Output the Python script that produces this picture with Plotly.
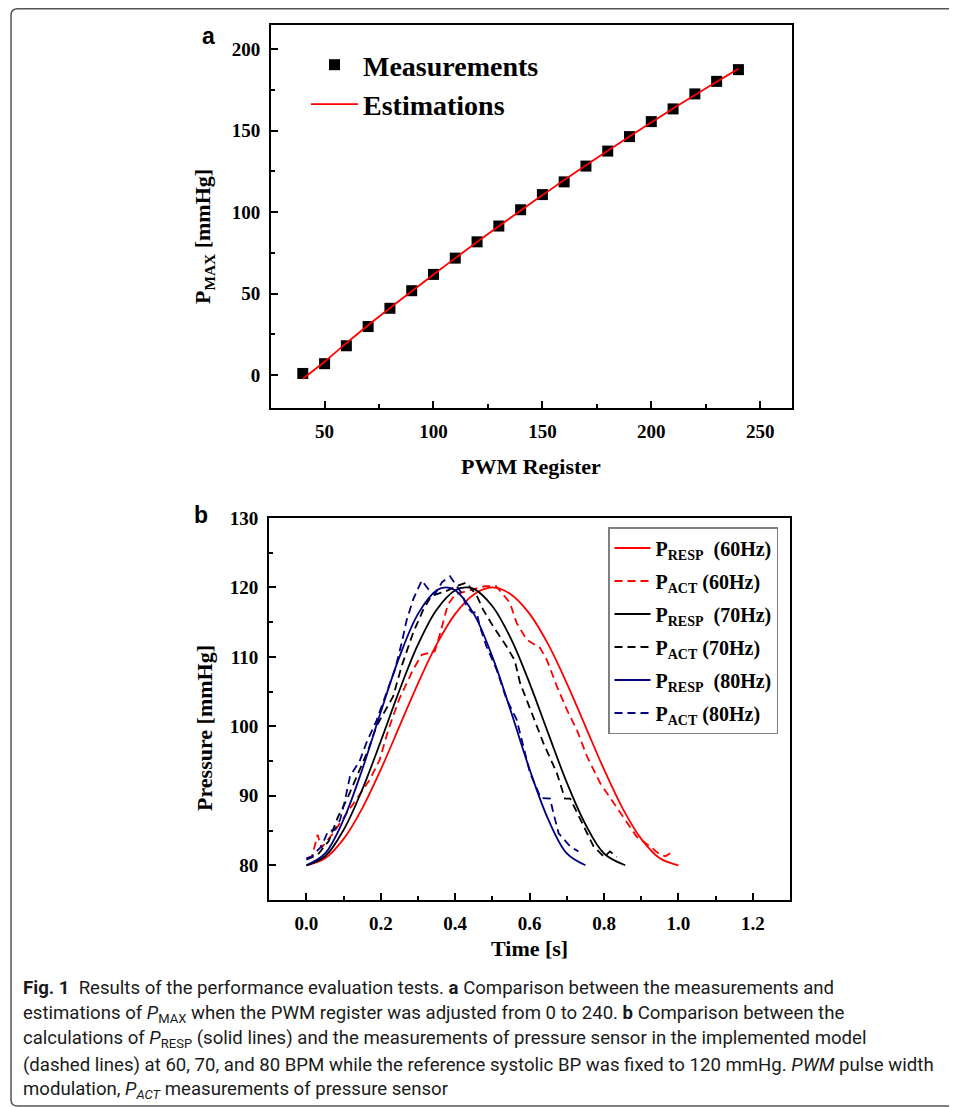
import plotly.graph_objects as go

# the page body adds an 8px margin, so the figure is laid out 8px in
OFF = 8
W, H = 957 - OFF, 1107 - OFF
SERIF = "Liberation Serif, Times New Roman, serif"
SANS = "Liberation Sans, Arial, sans-serif"
CAPTION = "Roboto, Noto Sans, sans-serif"

# ---- panel a: PWM register vs P_MAX ----
pwm = [40, 50, 60, 70, 80, 90, 100, 110, 120, 130, 140,
       150, 160, 170, 180, 190, 200, 210, 220, 230, 240]
pmax_meas = [1.0, 7.0, 18.0, 29.8, 41.0, 51.8, 61.8, 71.8, 81.8, 91.5, 101.5,
             110.8, 118.6, 128.3, 137.5, 146.4, 155.6, 163.4, 172.6, 180.3, 187.5]
pmax_est = [-2.2, 8.2, 19.6, 30.6, 41.1, 51.5, 61.7, 71.8, 81.7, 91.4, 101.0,
            110.4, 119.7, 128.8, 137.7, 146.5, 155.1, 163.6, 171.9, 180.0, 188.0]

# ---- panel b: pressure waveforms ----
t_resp60 = [0.0, 0.05, 0.10, 0.15, 0.20, 0.25, 0.30, 0.35, 0.40, 0.45, 0.50,
            0.55, 0.60, 0.65, 0.70, 0.75, 0.80, 0.85, 0.90, 0.95, 1.0]
p_resp60 = [80.0, 81.0, 83.8, 88.2, 93.8, 100.0, 106.2, 111.8, 116.2, 119.0, 120.0,
            119.0, 116.2, 111.8, 106.2, 100.0, 93.8, 88.2, 83.8, 81.0, 80.0]

t_resp70 = [0.0, 0.05, 0.10, 0.15, 0.20, 0.25, 0.30, 0.35, 0.40, 0.4285, 0.45,
            0.50, 0.55, 0.60, 0.65, 0.70, 0.75, 0.80, 0.857]
p_resp70 = [80.0, 81.3, 85.1, 90.9, 97.9, 105.2, 111.8, 116.8, 119.6, 120.0, 119.8,
            117.3, 112.6, 106.2, 99.0, 91.9, 85.9, 81.7, 80.0]

t_resp80 = [0.0, 0.05, 0.10, 0.15, 0.20, 0.25, 0.30, 0.35, 0.375, 0.40, 0.45,
            0.50, 0.55, 0.60, 0.65, 0.70, 0.75]
p_resp80 = [80.0, 81.7, 86.6, 93.8, 102.1, 110.0, 116.2, 119.6, 120.0, 119.6, 116.2,
            110.0, 102.1, 93.8, 86.6, 81.7, 80.0]

t_act60 = [0.0, 0.015, 0.03, 0.04, 0.07, 0.10, 0.121, 0.148, 0.17, 0.197, 0.22,
           0.25, 0.287, 0.31, 0.345, 0.36, 0.38, 0.40, 0.44, 0.48, 0.51, 0.547,
           0.565, 0.592, 0.628, 0.646, 0.673, 0.70, 0.727, 0.754, 0.79, 0.826,
           0.861, 0.888, 0.924, 0.951, 0.965, 0.98]
p_act60 = [81.0, 81.3, 84.4, 82.5, 84.5, 86.8, 88.5, 90.6, 92.3, 95.2, 99.5,
           104.0, 108.2, 110.3, 110.8, 113.5, 117.5, 119.0, 119.6, 120.2, 120.2, 117.8,
           114.9, 112.5, 111.3, 109.6, 105.8, 102.4, 99.5, 95.7, 91.8, 88.9,
           86.1, 84.1, 82.7, 81.5, 81.3, 81.8]

t_act70 = [0.0, 0.03, 0.06, 0.085, 0.108, 0.139, 0.166, 0.188, 0.233, 0.256, 0.287,
           0.314, 0.336, 0.377, 0.404, 0.43, 0.458, 0.475, 0.502, 0.538, 0.56,
           0.574, 0.601, 0.637, 0.673, 0.695, 0.709, 0.761, 0.772, 0.80, 0.816, 0.834]
p_act70 = [80.8, 81.5, 83.5, 87.0, 89.4, 93.3, 96.6, 100.0, 104.3, 108.7, 113.5,
           116.8, 118.8, 119.5, 120.2, 120.7, 118.8, 116.8, 114.4, 111.5, 109.5,
           106.3, 102.5, 97.6, 93.3, 89.6, 89.6, 84.1, 82.7, 81.2, 82.0, 81.2]

t_act80 = [0.0, 0.013, 0.04, 0.058, 0.076, 0.09, 0.103, 0.117, 0.143, 0.161, 0.188,
           0.215, 0.238, 0.256, 0.269, 0.287, 0.31, 0.327, 0.345, 0.365, 0.386,
           0.417, 0.43, 0.445, 0.458, 0.466, 0.484, 0.511, 0.538, 0.565, 0.601,
           0.63, 0.655, 0.664, 0.678, 0.709, 0.731]
p_act80 = [81.0, 81.2, 82.7, 84.9, 85.1, 86.5, 89.2, 92.8, 95.0, 97.6, 100.8,
           104.8, 108.2, 112.0, 115.2, 118.3, 121.0, 119.8, 119.0, 120.8, 121.6,
           119.2, 117.3, 116.4, 116.4, 114.4, 111.5, 108.2, 103.9, 101.0, 93.3,
           89.7, 89.6, 87.5, 84.6, 82.7, 82.0]

RED, BLACK, NAVY = "#ff0000", "#000000", "#000080"
DASH = "8px,5px"


def px(x):
    return (x - OFF) / W


def py(y):
    return 1 - (y - OFF) / H


fig = go.Figure()

# panel a traces
fig.add_trace(go.Scatter(
    x=pwm, y=pmax_meas, mode="markers", name="Measurements",
    marker=dict(symbol="square", size=11, color="black"),
    xaxis="x", yaxis="y", legend="legend"))
fig.add_trace(go.Scatter(
    x=pwm, y=pmax_est, mode="lines", name="Estimations",
    line=dict(color=RED, width=1.8, shape="spline"),
    xaxis="x", yaxis="y", legend="legend"))

# panel b traces
series = [
    (t_resp60, p_resp60, RED, "solid", "P<sub>RESP</sub>&nbsp; (60Hz)"),
    (t_act60, p_act60, RED, DASH, "P<sub>ACT</sub> (60Hz)"),
    (t_resp70, p_resp70, BLACK, "solid", "P<sub>RESP</sub>&nbsp; (70Hz)"),
    (t_act70, p_act70, BLACK, DASH, "P<sub>ACT</sub> (70Hz)"),
    (t_resp80, p_resp80, NAVY, "solid", "P<sub>RESP</sub>&nbsp; (80Hz)"),
    (t_act80, p_act80, NAVY, DASH, "P<sub>ACT</sub> (80Hz)"),
]
for i, (tx, ty, col, dash, name) in enumerate(series):
    fig.add_trace(go.Scatter(
        x=tx, y=ty, mode="lines", name=name, legendgroup=f"g{i}",
        line=dict(color=col, width=1.8, dash=dash,
                  shape="spline" if dash == "solid" else "linear"),
        xaxis="x2", yaxis="y2", legend="legend2"))

tickfont = dict(family=SERIF, size=19, color="black", weight="bold")


def frame(rng, dtick, minor, dom, anchor, fmt=None):
    d = dict(range=rng, domain=dom, anchor=anchor, dtick=dtick, tick0=0,
             showline=True, linecolor="black", linewidth=2, mirror=True,
             ticks="inside", ticklen=7, tickwidth=1.8, tickcolor="black",
             showgrid=False, zeroline=False, tickfont=tickfont,
             ticklabelstandoff=5,
             minor=dict(ticks="inside", ticklen=4, tickwidth=1.5,
                        tickcolor="black", dtick=minor, tick0=0, showgrid=False))
    if fmt:
        d["tickformat"] = fmt
    return d


fig.update_layout(
    width=W, height=H,
    margin=dict(l=0, r=0, t=0, b=0, autoexpand=False),
    paper_bgcolor="white", plot_bgcolor="white",
    xaxis=frame([25.4, 264.6], 50, 25, [px(271), px(792)], "y"),
    yaxis=frame([-20.2, 214.9], 50, 25, [py(408), py(25)], "x"),
    xaxis2=frame([-0.1007, 1.3], 0.2, 0.1, [px(269), px(790)], "y2", ".1f"),
    yaxis2=frame([75, 130], 10, 5, [py(900), py(518)], "x2"),
    legend=dict(x=px(306), y=py(40), xanchor="left", yanchor="top",
                bgcolor="rgba(0,0,0,0)", borderwidth=0, itemwidth=47,
                font=dict(family=SERIF, size=28, color="black", weight="bold")),
    legend2=dict(x=px(608), y=py(527), xanchor="left", yanchor="top",
                 bgcolor="white", bordercolor="#808080", borderwidth=1.5,
                 tracegroupgap=4, itemwidth=36,
                 font=dict(family=SERIF, size=20, color="black", weight="bold")),
)

ann = []
title_font = dict(family=SERIF, size=22, color="black", weight="bold")
ann.append(dict(text="PWM Register", x=px(531), y=py(466), font=title_font))
ann.append(dict(text="Time [s]", x=px(529), y=py(948), font=title_font))
ann.append(dict(text="P<sub>MAX</sub> [mmHg]", x=px(204), y=py(237),
                textangle=-90, font=title_font))
ann.append(dict(text="Pressure [mmHg]", x=px(204), y=py(728),
                textangle=-90, font=title_font))
panel_font = dict(family=SANS, size=23, color="black", weight="bold")
ann.append(dict(text="a", x=px(208), y=py(36), font=panel_font))
ann.append(dict(text="b", x=px(201), y=py(515), font=panel_font))

caption = [
    "<b>Fig. 1</b>  Results of the performance evaluation tests. <b>a</b> Comparison between the measurements and",
    "estimations of <i>P</i><sub>MAX</sub> when the PWM register was adjusted from 0 to 240. <b>b</b> Comparison between the",
    "calculations of <i>P</i><sub>RESP</sub> (solid lines) and the measurements of pressure sensor in the implemented model",
    "(dashed lines) at 60, 70, and 80 BPM while the reference systolic BP was fixed to 120 mmHg. <i>PWM</i> pulse width",
    "modulation, <i>P<sub>ACT</sub></i> measurements of pressure sensor",
]
cap_y = [988, 1014, 1039, 1065, 1090]
for line, yy in zip(caption, cap_y):
    ann.append(dict(text=line, x=px(21), y=py(yy), xanchor="left",
                    font=dict(family=CAPTION, size=18.6, color="#1a1a1a")))

for a in ann:
    a.setdefault("xanchor", "center")
    a.update(xref="paper", yref="paper", yanchor="middle", showarrow=False)
fig.update_layout(annotations=ann)

# rounded figure frame
frame_path = (f"M {px(957)} {py(8.7)} L {px(18)} {py(8.7)} "
              f"Q {px(11)} {py(8.7)} {px(11)} {py(15)} "
              f"L {px(11)} {py(1100)} Q {px(11)} {py(1106)} {px(18)} {py(1106)} "
              f"L {px(957)} {py(1106)}")
fig.add_shape(type="path", path=frame_path, xref="paper", yref="paper",
              line=dict(color="#555555", width=1.5))

fig.write_html("out.html")
